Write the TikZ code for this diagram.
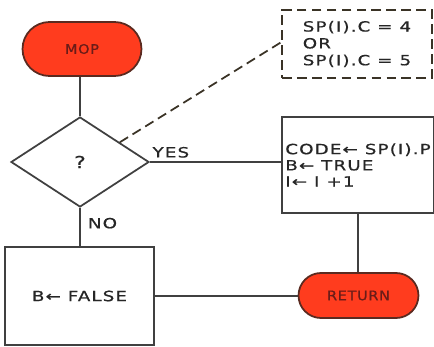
\documentclass[tikz,border=0pt]{standalone}
\usepackage{fontspec}
\usepackage{tikz}
\usetikzlibrary{calc,positioning,shapes.geometric,shapes.misc}
\newfontfamily\flowfont[FakeStretch=1.3,LetterSpace=8,FakeBold=0.6]{DejaVu Sans}
\newfontfamily\termfont[FakeStretch=1.1,LetterSpace=5,FakeBold=0.8]{DejaVu Sans}
\definecolor{FlowRed}{HTML}{FF3C1E}
\definecolor{FlowEdge}{HTML}{5A2A20}
\definecolor{FlowInk}{HTML}{262626}
\definecolor{FlowLine}{HTML}{404040}
\definecolor{FlowTermText}{HTML}{6A1C18}
\definecolor{FlowDash}{HTML}{3A3326}
\newcommand{\FlowText}{\fontsize{8}{8}\selectfont\flowfont}
\newcommand{\FlowProc}{\fontsize{8}{9.2}\selectfont\flowfont}
\newcommand{\FlowNote}{\fontsize{8}{9.6}\selectfont\flowfont}
\newcommand{\FlowTerm}{\fontsize{7.5}{8}\selectfont\termfont}
\newcommand{\FlowAsk}{\fontsize{9.5}{10}\selectfont\flowfont}
\tikzset{
  flowbase/.style={
    draw=FlowLine,
    line width=1.0pt,
    text=FlowInk,
    font=\FlowText,
    inner sep=2pt
  },
  termbox/.style={
    flowbase,
    rounded rectangle,
    draw=FlowEdge,
    fill=FlowRed,
    text=FlowTermText,
    font=\FlowTerm
  },
  procbox/.style={flowbase, rectangle, fill=white, align=left, font=\FlowProc},
  decisionbox/.style={flowbase, diamond, fill=white, inner sep=0pt, font=\FlowAsk},
  notebox/.style={
    flowbase,
    rectangle,
    draw=FlowDash,
    dash pattern=on 5.5pt off 3pt,
    font=\FlowNote,
    align=left
  },
  flowline/.style={draw=FlowLine, line width=1.0pt},
  noteline/.style={draw=FlowDash, line width=1.0pt, dash pattern=on 5.5pt off 3pt},
  edgelabel/.style={text=FlowInk, font=\FlowText, inner sep=1pt}
}
\begin{document}
\begin{tikzpicture}[x=1cm,y=1cm]
\path[use as bounding box] (0,0) rectangle (8.68,6.92);

\node[termbox, minimum width=2.52cm, minimum height=1.08cm] (mop) at (1.64,5.94) {MOP};
\node[decisionbox, minimum width=2.76cm, minimum height=1.80cm] (test) at (1.60,3.68) {?};
\node[notebox, minimum width=3.00cm, minimum height=1.36cm] (cond) at (7.14,6.04)
  {SP(I).C = 4\\OR\\SP(I).C = 5};
\node[procbox, minimum width=3.00cm, minimum height=1.92cm] (setcode) at (7.16,3.62)
  {CODE← SP(I).P\\B← TRUE\\I← I +1};
\node[procbox, minimum width=2.98cm, minimum height=1.96cm] (setfalse) at (1.59,1.00) {B← FALSE};
\node[termbox, minimum width=2.54cm, minimum height=0.90cm] (ret) at (7.17,1.01) {RETURN};

\draw[flowline] (test.north |- mop.south) -- (test.north);
\draw[flowline] (test.east) -- node[edgelabel, pos=0.16, above=1pt] {YES} (test.east -| setcode.west);
\draw[flowline] (test.south) -- node[edgelabel, pos=0.40, right=3pt] {NO} (test.south |- setfalse.north);
\draw[flowline] (setcode.south) -- (setcode.south |- ret.north);
\draw[flowline] (setfalse.east) -- (setfalse.east -| ret.west);
\draw[noteline] ($(test.north)!0.57!(test.east)$) -- ([yshift=1pt]cond.west);

\end{tikzpicture}
\end{document}
